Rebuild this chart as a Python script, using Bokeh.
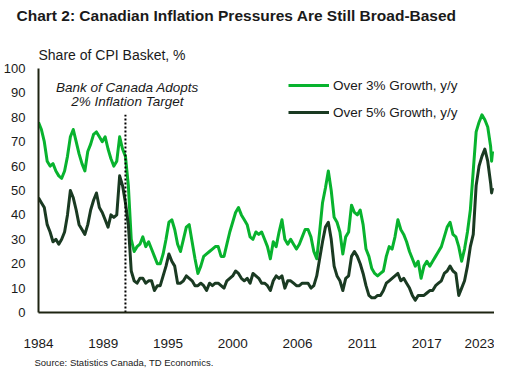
import pandas as pd
from bokeh.plotting import figure
from bokeh.models import Range1d, FixedTicker, Label, Legend, LegendItem, Title
from bokeh.embed import file_html
from bokeh.resources import INLINE

# ---------------- data ----------------
TITLE = "Chart 2: Canadian Inflation Pressures Are Still Broad-Based"
Y_TITLE = "Share of CPI Basket, %"
SOURCE = "Source: Statistics Canada, TD Economics."
SERIES_NAMES = ["Over 3% Growth, y/y", "Over 5% Growth, y/y"]
ANNOTATION = ["Bank of Canada Adopts", "2% Inflation Target"]

DATES = list(pd.date_range("1984-01-01", "2023-01-01", freq="3MS").strftime("%Y-%m")) + ["2023-02", "2023-03"]

OVER_3 = [
    78, 75, 70, 62, 60, 61, 58, 56, 55, 58,
    64, 72, 75, 70, 65, 61, 58, 66, 69, 73,
    74, 72, 70, 72, 67, 63, 60, 62, 72, 67,
    64, 52, 30, 25, 27, 28, 31, 27, 29, 26,
    23, 20, 20, 24, 30, 37, 38, 34, 28, 25,
    30, 35, 36, 29, 22, 16, 19, 23, 24, 25,
    26, 27, 27, 23, 23, 28, 33, 37, 41, 43,
    40, 38, 36, 31, 30, 33, 32, 33, 30, 27,
    22, 29, 27, 33, 38, 30, 28, 30, 28, 26,
    28, 31, 34, 34, 31, 25, 22, 33, 45, 51,
    58, 50, 39, 37, 33, 24, 31, 33, 44, 41,
    40, 42, 36, 26, 23, 18, 16, 15, 16, 17,
    23, 27, 26, 31, 38, 34, 32, 29, 25, 22,
    19, 21, 14, 19, 21, 19, 21, 23, 25, 27,
    31, 35, 37, 32, 31, 27, 21, 26, 33, 42,
    58, 74, 78, 81, 79, 76, 68, 62, 66,
]

OVER_5 = [
    47, 45, 43, 36, 33, 29, 30, 28, 30, 33,
    40, 50, 47, 42, 36, 34, 32, 36, 42, 46,
    49, 43, 41, 38, 35, 40, 39, 40, 56, 52,
    45, 36, 17, 13, 12, 14, 14, 12, 13, 13,
    9, 11, 11, 15, 19, 24, 21, 19, 12, 12,
    13, 15, 14, 13, 11, 11, 12, 11, 9, 12,
    11, 12, 12, 11, 10, 13, 14, 15, 17, 16,
    14, 13, 14, 12, 16, 15, 14, 12, 12, 11,
    9, 13, 15, 14, 15, 10, 13, 13, 12, 11,
    11, 12, 12, 12, 10, 11, 15, 22, 29, 35,
    37, 30, 19, 15, 13, 9, 14, 15, 23, 25,
    23, 20, 16, 11, 7, 6, 6, 7, 7, 9,
    12, 13, 14, 15, 16, 13, 14, 12, 10, 7,
    5, 7, 7, 7, 8, 9, 9, 11, 12, 13,
    16, 17, 19, 17, 16, 7, 10, 13, 19, 27,
    32, 52, 60, 64, 67, 62, 53, 49, 51,
]

TICK_DATES = ["1984-01", "1989-08", "1995-03", "2000-10", "2006-05", "2011-12", "2017-07", "2023-02"]
TICK_LABELS = ["1984", "1989", "1995", "2000", "2006", "2011", "2017", "2023"]
Y_TICKS = [0, 10, 20, 30, 40, 50, 60, 70, 80, 90, 100]

BOC_DATE = "1991-07"
BOC_LINE_TOP = 81


def month_index(s):
    y, m = s.split("-")
    return (int(y) - 1984) * 12 + int(m) - 1


x = [month_index(d) for d in DATES]
tick_x = [month_index(d) for d in TICK_DATES]
boc_x = month_index(BOC_DATE)

GREEN = "#08b32e"
DARK = "#1a3a22"
AXIS = "#1e2412"
TEXT = "#1a1a1a"
FONT = "Liberation Sans"

# frame: 284 px tall, 2.44 px per unit -> room above 100 for the unit caption
Y_MAX = 284 / 2.44

p = figure(width=494, height=376, output_backend="svg", toolbar_location=None,
           x_range=Range1d(0, 472), y_range=Range1d(0, Y_MAX), title=None,
           min_border_left=29, min_border_right=0, min_border_top=28, min_border_bottom=64)
p.outline_line_color = None
p.xgrid.grid_line_color = None
p.ygrid.grid_line_color = None
p.background_fill_color = "white"
p.border_fill_color = "white"

for ax in (p.xaxis[0], p.yaxis[0]):
    ax.axis_line_color = AXIS
    ax.axis_line_width = 2
    ax.major_tick_line_color = None
    ax.minor_tick_line_color = None
    ax.major_label_text_font = FONT
    ax.major_label_text_color = TEXT

p.xaxis.ticker = FixedTicker(ticks=tick_x)
p.xaxis.major_label_overrides = {t: l for t, l in zip(tick_x, TICK_LABELS)}
p.xaxis.major_label_standoff = 20
p.xaxis.major_label_text_font_size = "13.5px"
p.yaxis.ticker = FixedTicker(ticks=Y_TICKS)
p.yaxis.bounds = (0, 100)
p.yaxis.major_label_standoff = 7
p.yaxis.major_label_text_font_size = "13px"

r1 = p.line(x, OVER_3, line_width=3, color=GREEN, line_join="round")
r2 = p.line(x, OVER_5, line_width=3, color=DARK, line_join="round")

p.segment(x0=[boc_x], y0=[0], x1=[boc_x], y1=[BOC_LINE_TOP], line_color="black",
          line_width=2, line_dash="2 2")

p.add_layout(Label(x=boc_x + 2, y=92.4, text=ANNOTATION[0], text_font=FONT, text_font_size="13.5px",
                   text_font_style="italic", text_align="center", text_baseline="middle", text_color=TEXT))
p.add_layout(Label(x=boc_x + 2, y=86.3, text=ANNOTATION[1], text_font=FONT, text_font_size="13.5px",
                   text_font_style="italic", text_align="center", text_baseline="middle", text_color=TEXT))

p.add_layout(Label(x=0, y=105.7, text=Y_TITLE, text_font=FONT, text_font_size="14px",
                   text_align="left", text_baseline="middle", text_color=TEXT))

legend = Legend(items=[LegendItem(label=SERIES_NAMES[0], renderers=[r1]),
                       LegendItem(label=SERIES_NAMES[1], renderers=[r2])],
                location=(250, 190), glyph_width=41, glyph_height=20, label_height=20,
                spacing=7, padding=0, margin=0, label_standoff=4,
                border_line_alpha=0, background_fill_alpha=0,
                label_text_font=FONT, label_text_font_size="13.5px", label_text_color=TEXT)
p.add_layout(legend)

p.add_layout(Title(text=TITLE, align="left", offset=-22, standoff=9, text_font=FONT,
                   text_font_size="15.5px", text_font_style="bold", text_color=TEXT), "above")
p.add_layout(Title(text=SOURCE, align="left", offset=-4, standoff=8, text_font=FONT,
                   text_font_size="9.5px", text_font_style="normal", text_color=TEXT), "below")

open("out.html", "w").write(file_html(p, INLINE))
